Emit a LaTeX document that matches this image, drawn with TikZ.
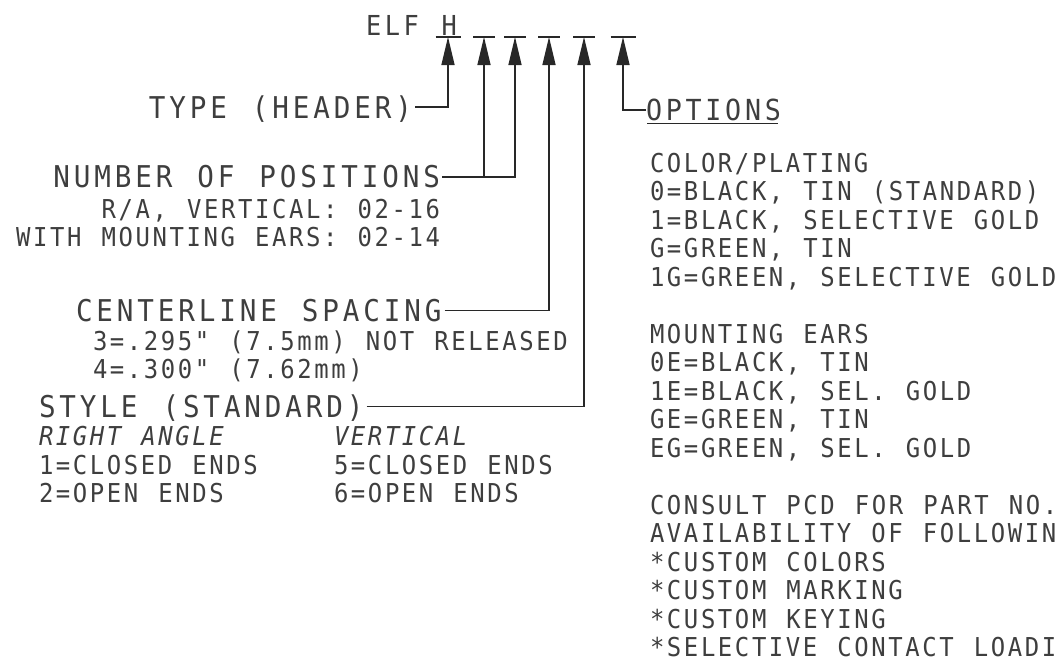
\documentclass[tikz,border=0pt]{standalone}
\usepackage{fontspec}
\newfontfamily\bigff{DejaVu Sans Mono}[FakeStretch=0.92, LetterSpace=12.9, WordSpace=1.22]
\newfontfamily\smallff{DejaVu Sans Mono}[FakeStretch=0.92, LetterSpace=10.0, WordSpace=1.18, ItalicFont={DejaVu Sans Mono Oblique}]
\usetikzlibrary{arrows.meta}
\definecolor{ink}{RGB}{40,40,40}
\definecolor{txt}{RGB}{62,62,62}
\begin{document}
\begin{tikzpicture}[x=1pt,y=-1pt,
  big/.style={font=\bigff\fontsize{30}{30}\selectfont, text=txt, inner sep=0pt, outer sep=0pt},
  sm/.style={font=\smallff\fontsize{26}{26}\selectfont, text=txt, inner sep=0pt, outer sep=0pt},
  smit/.style={font=\smallff\itshape\fontsize{26}{26}\selectfont, text=txt, inner sep=0pt, outer sep=0pt},
  lead/.style={draw=ink, line width=1.4pt},
  arr/.style={lead, -{Triangle[length=28pt,width=13pt]}},
  barline/.style={draw=ink, line width=2pt}]
\useasboundingbox (0,0) rectangle (1063,667);

% bars under the part number
\coordinate (b1) at (448,37);
\coordinate (b2) at (484,37);
\coordinate (b3) at (515,37);
\coordinate (b4) at (549,37);
\coordinate (b5) at (584,37);
\coordinate (b6) at (623,37);
\foreach \c/\w in {b1/12.5,b2/11,b3/11,b4/11,b5/11,b6/12.5}
  \draw[barline] ([xshift=-\w pt]\c) -- ([xshift=\w pt]\c);

\node[big, anchor=base west, font=\bigff\fontsize{27.5}{27.5}\selectfont] (elf) at (366,35) {ELF H};

% left labels
\node[big, anchor=base east] (typ) at (412,118) {TYPE (HEADER)};
\node[big, anchor=base east] (num) at (440,187.5) {NUMBER OF POSITIONS};
\node[sm, anchor=base east] (ra) at (440,218) {R/A, VERTICAL: 02-16};
\node[sm, anchor=base east] (ears) at (440,246.5) {WITH MOUNTING EARS: 02-14};
\node[big, anchor=base west] (cen) at (76,321) {CENTERLINE SPACING};
\node[sm, anchor=base west] (c3) at (93,350) {3=.295" (7.5mm) NOT RELEASED};
\node[sm, anchor=base west] (c4) at (93,378.5) {4=.300" (7.62mm)};
\node[big, anchor=base west] (sty) at (39,417) {STYLE (STANDARD)};
\node[smit, anchor=base west] (ra2) at (39,445) {RIGHT ANGLE};
\node[smit, anchor=base west] (vt) at (334,445) {VERTICAL};
\node[sm, anchor=base west] (s1) at (39,474) {1=CLOSED ENDS};
\node[sm, anchor=base west] (s5) at (334,474) {5=CLOSED ENDS};
\node[sm, anchor=base west] (s2) at (39,502.5) {2=OPEN ENDS};
\node[sm, anchor=base west] (s6) at (334,502.5) {6=OPEN ENDS};

% options
\node[big, anchor=base west, font=\bigff\fontsize{29}{29}\selectfont] (opt) at (646,120) {OPTIONS};
\draw[draw=ink, line width=1.3pt] ([yshift=-3.5pt,xshift=1pt]opt.base west) -- ([yshift=-3.5pt,xshift=-3pt]opt.base east);

\node[sm, anchor=base west] (o0) at (650,172.3) {COLOR/PLATING};
\node[sm, anchor=base west] (o1) at (650,200.8) {0=BLACK, TIN (STANDARD)};
\node[sm, anchor=base west] (o2) at (650,229.3) {1=BLACK, SELECTIVE GOLD};
\node[sm, anchor=base west] (o3) at (650,257.8) {G=GREEN, TIN};
\node[sm, anchor=base west] (o4) at (650,286.3) {1G=GREEN, SELECTIVE GOLD};
\node[sm, anchor=base west] (m0) at (650,343.3) {MOUNTING EARS};
\node[sm, anchor=base west] (m1) at (650,371.8) {0E=BLACK, TIN};
\node[sm, anchor=base west] (m2) at (650,400.3) {1E=BLACK, SEL. GOLD};
\node[sm, anchor=base west] (m3) at (650,428.8) {GE=GREEN, TIN};
\node[sm, anchor=base west] (m4) at (650,457.3) {EG=GREEN, SEL. GOLD};
\node[sm, anchor=base west] (p0) at (650,514.3) {CONSULT PCD FOR PART NO.};
\node[sm, anchor=base west] (p1) at (650,542.8) {AVAILABILITY OF FOLLOWIN};
\node[sm, anchor=base west] (p2) at (650,571.3) {*CUSTOM COLORS};
\node[sm, anchor=base west] (p3) at (650,599.8) {*CUSTOM MARKING};
\node[sm, anchor=base west] (p4) at (650,628.3) {*CUSTOM KEYING};
\node[sm, anchor=base west] (p5) at (650,656.8) {*SELECTIVE CONTACT LOADI};

% leaders
\draw[arr] ([xshift=3pt,yshift=11pt]typ.base east) -| (b1);
\draw[arr] ([xshift=2pt,yshift=10.5pt]num.base east) coordinate (nj) -| (b3);
\draw[arr] (b2 |- nj) -- (b2);
\draw[arr] ([xshift=3pt,yshift=10.5pt]cen.base east) -| (b4);
\draw[arr] ([xshift=3pt,yshift=10.5pt]sty.base east) -| (b5);
\draw[arr] ([xshift=0pt,yshift=10pt]opt.base west) -| (b6);
\end{tikzpicture}
\end{document}
